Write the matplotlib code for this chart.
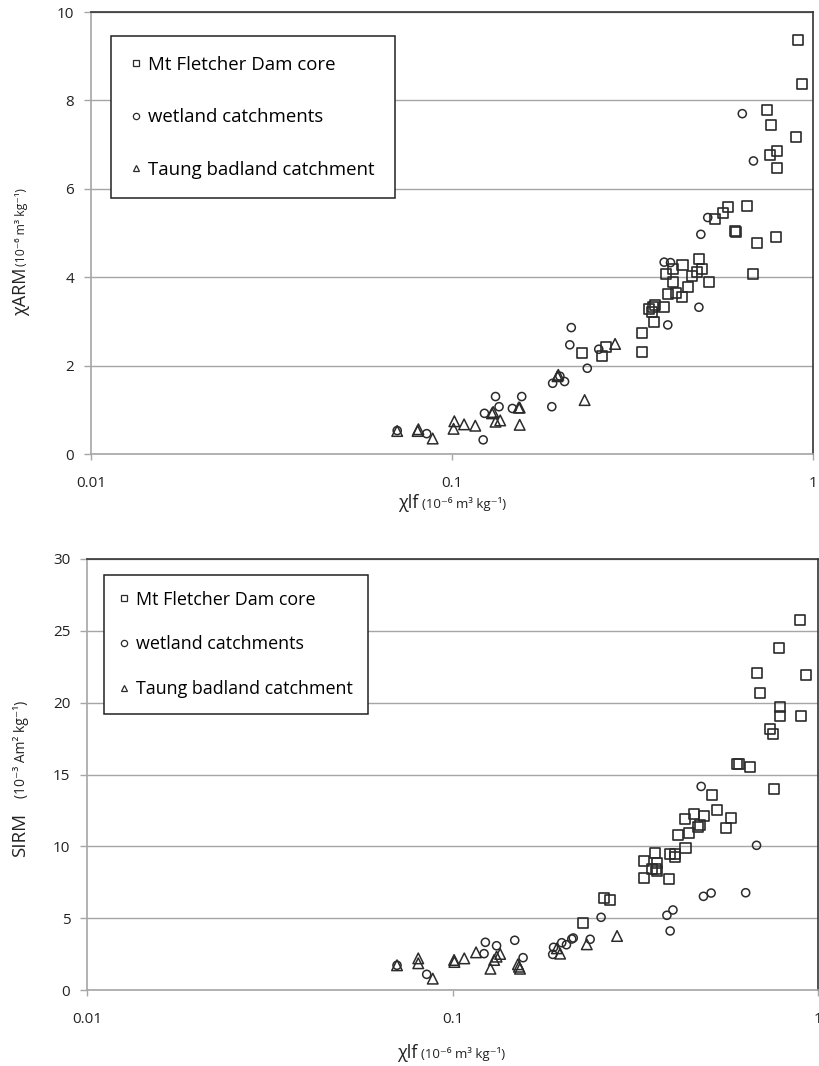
import matplotlib
matplotlib.use("Agg")
import matplotlib.pyplot as plt
from matplotlib.lines import Line2D
from matplotlib.ticker import FixedLocator, FixedFormatter

plt.rcParams['font.family'] = ['Open Sans', 'DejaVu Sans']

labels = ["Mt Fletcher Dam core", "wetland catchments", "Taung badland catchment"]

# chiARM vs chilf
arm_dam_x = [0.908, 0.933, 0.745, 0.764, 0.899, 0.793, 0.759, 0.793, 0.658, 0.581, 0.563, 0.534,
             0.607, 0.613, 0.788, 0.700, 0.684, 0.484, 0.435, 0.493, 0.476, 0.409, 0.392, 0.462,
             0.515, 0.410, 0.450, 0.417, 0.396, 0.434, 0.366, 0.361, 0.387, 0.351, 0.359, 0.362,
             0.336, 0.336, 0.229, 0.261, 0.267]
arm_dam_y = [9.37, 8.37, 7.78, 7.45, 7.17, 6.86, 6.77, 6.48, 5.61, 5.58, 5.46, 5.32,
             5.05, 5.02, 4.90, 4.78, 4.07, 4.41, 4.28, 4.18, 4.12, 4.18, 4.07, 4.03,
             3.90, 3.89, 3.77, 3.65, 3.62, 3.56, 3.36, 3.32, 3.32, 3.29, 3.22, 2.99,
             2.74, 2.31, 2.29, 2.22, 2.41]
arm_wet_x = [0.637, 0.684, 0.511, 0.489, 0.387, 0.403, 0.483, 0.396, 0.214, 0.212, 0.255, 0.237,
             0.199, 0.190, 0.205, 0.189, 0.132, 0.156, 0.135, 0.123, 0.147, 0.122, 0.0851, 0.0705]
arm_wet_y = [7.70, 6.63, 5.35, 4.97, 4.34, 4.33, 3.32, 2.92, 2.86, 2.47, 2.37, 1.94,
             1.76, 1.60, 1.64, 1.07, 1.30, 1.30, 1.07, 0.92, 1.03, 0.32, 0.46, 0.53]
arm_taung_x = [0.0705, 0.0807, 0.0803, 0.0884, 0.1015, 0.101, 0.108, 0.116, 0.129, 0.130,
               0.132, 0.136, 0.153, 0.154, 0.154, 0.196, 0.197, 0.233, 0.283]
arm_taung_y = [0.52, 0.56, 0.52, 0.35, 0.74, 0.57, 0.67, 0.64, 0.92, 0.95,
               0.73, 0.76, 1.05, 1.05, 0.66, 1.76, 1.79, 1.22, 2.49]

# SIRM vs chilf
sirm_dam_x = [0.894, 0.782, 0.679, 0.927, 0.695, 0.787, 0.787, 0.900, 0.739, 0.753, 0.601, 0.609,
              0.653, 0.759, 0.513, 0.530, 0.459, 0.488, 0.432, 0.577, 0.476, 0.471, 0.559, 0.445,
              0.414, 0.434, 0.359, 0.393, 0.407, 0.407, 0.334, 0.362, 0.352, 0.361, 0.362, 0.334,
              0.391, 0.260, 0.269, 0.228]
sirm_dam_y = [25.73, 23.82, 22.08, 21.90, 20.65, 19.67, 19.09, 19.07, 18.14, 17.84, 15.73, 15.73,
              15.52, 13.97, 13.57, 12.55, 12.25, 12.13, 11.92, 11.95, 11.46, 11.34, 11.30, 10.95,
              10.76, 9.86, 9.51, 9.49, 9.46, 9.23, 8.95, 8.86, 8.42, 8.42, 8.28, 7.79,
              7.70, 6.38, 6.29, 4.66]
sirm_wet_x = [0.479, 0.679, 0.486, 0.510, 0.634, 0.386, 0.401, 0.394, 0.255, 0.238, 0.214, 0.212,
              0.205, 0.199, 0.189, 0.188, 0.148, 0.123, 0.132, 0.122, 0.156, 0.085, 0.0705]
sirm_wet_y = [14.17, 10.07, 6.52, 6.75, 6.77, 5.20, 5.57, 4.11, 5.06, 3.53, 3.62, 3.55,
              3.15, 3.29, 2.97, 2.48, 3.46, 3.32, 3.08, 2.53, 2.25, 1.09, 1.72]
sirm_taung_x = [0.0705, 0.0806, 0.0806, 0.0883, 0.101, 0.1012, 0.1077, 0.116, 0.127, 0.130,
                0.132, 0.135, 0.151, 0.152, 0.153, 0.197, 0.193, 0.233, 0.282]
sirm_taung_y = [1.72, 2.20, 1.86, 0.79, 2.09, 1.95, 2.20, 2.62, 1.48, 2.09,
                2.32, 2.51, 1.79, 1.62, 1.48, 2.53, 2.90, 3.18, 3.76]

x_ticks = [0.01, 0.1, 1]
x_ticklabels = ["0.01", "0.1", "1"]
arm_yticks = [0, 2, 4, 6, 8, 10]
sirm_yticks = [0, 5, 10, 15, 20, 25, 30]

EDGE = '#2b2b2b'
GRID = '#a6a6a6'
TXT = '#222222'


def draw(ax, dam, wet, taung, yticks, leg_anchor, leg_font, leg_space, leg_pad):
    ax.set_xscale('log')
    ax.set_xlim(0.01, 1)
    ax.set_ylim(yticks[0], yticks[-1])
    ax.scatter(dam[0], dam[1], marker='s', s=52, facecolors='none', edgecolors=EDGE, linewidths=1.2, zorder=3)
    ax.scatter(wet[0], wet[1], marker='o', s=34, facecolors='none', edgecolors=EDGE, linewidths=1.1, zorder=3)
    ax.scatter(taung[0], taung[1], marker='^', s=58, facecolors='none', edgecolors=EDGE, linewidths=1.1, zorder=3)

    ax.xaxis.set_major_locator(FixedLocator(x_ticks))
    ax.xaxis.set_major_formatter(FixedFormatter(x_ticklabels))
    ax.xaxis.set_minor_locator(FixedLocator([]))
    ax.set_yticks(yticks)
    ax.yaxis.grid(True, color=GRID, lw=1.0)
    ax.set_axisbelow(True)
    ax.tick_params(axis='x', length=4, width=1, color=GRID, pad=11.5, labelsize=11, labelcolor=TXT)
    ax.tick_params(axis='y', length=5, width=1, color=GRID, pad=7, labelsize=11, labelcolor=TXT)
    for side in ('left', 'bottom'):
        ax.spines[side].set_color(GRID)
        ax.spines[side].set_linewidth(1.2)
    for side in ('top', 'right'):
        ax.spines[side].set_color('#333333')
        ax.spines[side].set_linewidth(1.2)

    handles = [Line2D([], [], ls='none', marker=m, markersize=ms, markerfacecolor='none',
                      markeredgecolor=EDGE, markeredgewidth=0.9)
               for m, ms in (('s', 5), ('o', 4.5), ('^', 5))]
    leg = ax.legend(handles, labels, loc='upper left', bbox_to_anchor=leg_anchor,
                    frameon=True, fancybox=False, fontsize=leg_font, handlelength=0.6,
                    handletextpad=0.35, labelspacing=leg_space, borderpad=leg_pad, borderaxespad=0,
                    edgecolor='#222222', framealpha=1)
    leg.get_frame().set_linewidth(1.1)


fig = plt.figure(figsize=(8.19, 10.66), dpi=100)
ax1 = fig.add_axes([91 / 819, 1 - 454 / 1066, (813 - 91) / 819, (454 - 12) / 1066])
ax2 = fig.add_axes([87 / 819, 1 - 990 / 1066, (818 - 87) / 819, (990 - 559) / 1066])

draw(ax1, (arm_dam_x, arm_dam_y), (arm_wet_x, arm_wet_y), (arm_taung_x, arm_taung_y),
     arm_yticks, (0.028, 0.945), 13.4, 1.85, 1.05)
draw(ax2, (sirm_dam_x, sirm_dam_y), (sirm_wet_x, sirm_wet_y), (sirm_taung_x, sirm_taung_y),
     sirm_yticks, (0.023, 0.962), 12.9, 1.5, 0.85)

# axis titles: large symbol + smaller units
def xlab(xpix, ypix):
    fig.text(xpix / 819, 1 - ypix / 1066, "χlf", ha='right', va='center', fontsize=13, color=TXT)
    fig.text((xpix + 4) / 819, 1 - (ypix + 1) / 1066, "(10⁻⁶ m³ kg⁻¹)", ha='left', va='center',
             fontsize=9.5, color=TXT)

xlab(418, 503)
xlab(417, 1053)

fig.text(21 / 819, 1 - 292 / 1066, "χARM", rotation=90, ha='center', va='center', fontsize=13, color=TXT)
fig.text(22 / 819, 1 - 227 / 1066, "(10⁻⁶ m³ kg⁻¹)", rotation=90, ha='center', va='center', fontsize=8.8, color=TXT)
fig.text(20 / 819, 1 - 835 / 1066, "SIRM", rotation=90, ha='center', va='center', fontsize=13.5, color=TXT)
fig.text(21 / 819, 1 - 749 / 1066, "(10⁻³ Am² kg⁻¹)", rotation=90, ha='center', va='center', fontsize=10, color=TXT)

fig.savefig("out.png", dpi=100)
